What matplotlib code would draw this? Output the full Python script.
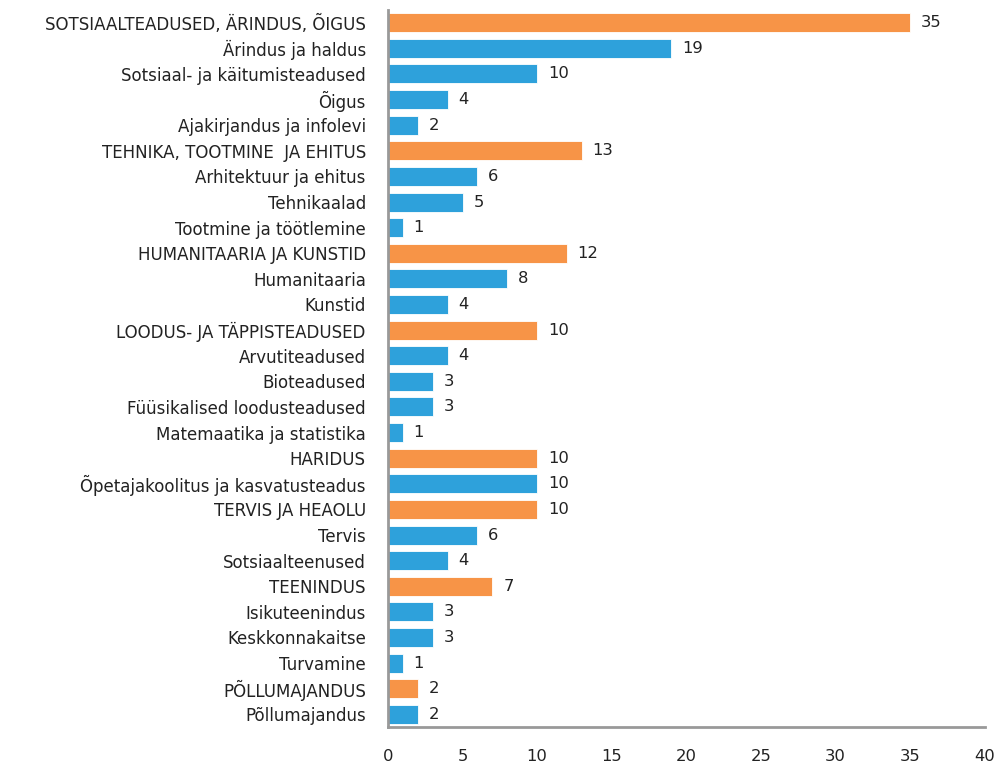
import matplotlib
matplotlib.use("Agg")
import matplotlib.pyplot as plt

categories = [
    "SOTSIAALTEADUSED, ÄRINDUS, ÕIGUS", "Ärindus ja haldus", "Sotsiaal- ja käitumisteadused",
    "Õigus", "Ajakirjandus ja infolevi", "TEHNIKA, TOOTMINE  JA EHITUS",
    "Arhitektuur ja ehitus", "Tehnikaalad", "Tootmine ja töötlemine",
    "HUMANITAARIA JA KUNSTID", "Humanitaaria", "Kunstid",
    "LOODUS- JA TÄPPISTEADUSED", "Arvutiteadused", "Bioteadused",
    "Füüsikalised loodusteadused", "Matemaatika ja statistika", "HARIDUS",
    "Õpetajakoolitus ja kasvatusteadus", "TERVIS JA HEAOLU", "Tervis",
    "Sotsiaalteenused", "TEENINDUS", "Isikuteenindus", "Keskkonnakaitse",
    "Turvamine", "PÕLLUMAJANDUS", "Põllumajandus",
]
values = [35, 19, 10, 4, 2, 13, 6, 5, 1, 12, 8, 4, 10, 4, 3, 3, 1, 10, 10, 10, 6, 4, 7, 3, 3, 1, 2, 2]
is_group = [c.isupper() for c in categories]

ORANGE = "#F79447"
BLUE = "#2EA1DB"
TEXT = "#222222"

plt.rcParams['font.family'] = ['DejaVu Sans']

fig = plt.figure(figsize=(10.01, 7.63), dpi=100)
ax = fig.add_axes([0.3876, 0.047, 0.596, 0.94])

ys = list(range(len(categories)))
colors = [ORANGE if g else BLUE for g in is_group]
ax.barh(ys, values, height=0.74, color=colors, edgecolor="white", linewidth=0.6)
for y, v in zip(ys, values):
    ax.text(v + 0.72, y, str(v), va="center", ha="left", fontsize=11.8, color=TEXT)

ax.set_yticks(ys)
ax.set_yticklabels(categories, fontsize=12, color=TEXT)
ax.set_ylim(len(categories) - 0.5, -0.5)
ax.set_xlim(0, 40)
ax.set_xticks(range(0, 41, 5))
ax.tick_params(axis='x', labelsize=11.8, colors=TEXT, length=0, pad=16)
ax.tick_params(axis='y', length=0, pad=16)
for s in ["top", "right"]:
    ax.spines[s].set_visible(False)
for s in ["left", "bottom"]:
    ax.spines[s].set_color("#999999")
    ax.spines[s].set_linewidth(2)

fig.savefig("out.png", dpi=100)
